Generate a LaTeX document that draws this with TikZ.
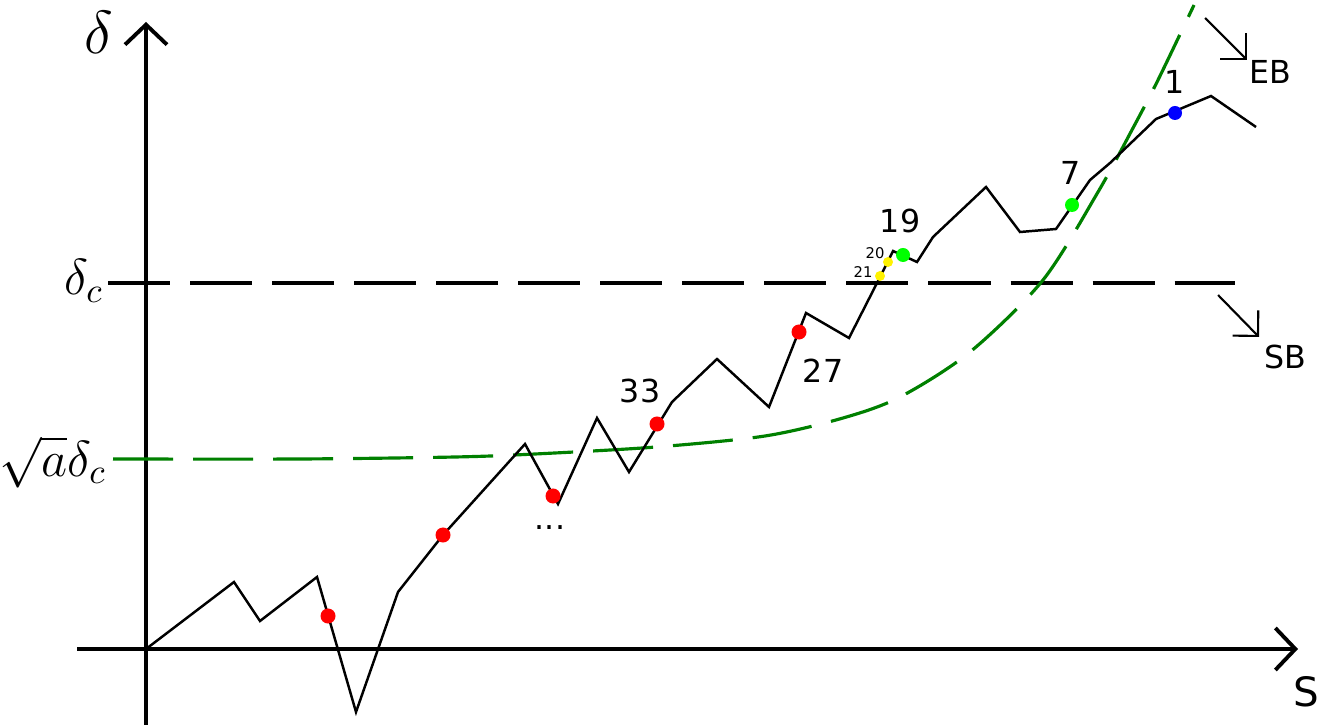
\documentclass[tikz,border=0pt]{standalone}
\usepackage{amsmath}
\usepackage{fontspec}
\newfontfamily\lblfont{DejaVu Sans}
\usetikzlibrary{arrows.meta}

\begin{document}
\begin{tikzpicture}[x=0.01cm,y=-0.01cm,
	axis/.style={line width=1.1pt,-{Straight Barb[length=2mm,width=4.2mm]}},
	barb/.style={line width=0.6pt,-{Straight Barb[length=1.8mm,width=3.6mm]}},
	dot/.style={circle,inner sep=0pt,minimum size=0.15cm},
	smalldot/.style={circle,inner sep=0pt,minimum size=0.1cm,fill=yellow},
	lbl/.style={inner sep=0pt,font=\lblfont\fontsize{9}{11}\selectfont},
	tiny/.style={inner sep=0pt,font=\lblfont\fontsize{4.2}{5}\selectfont},
	mathlbl/.style={inner sep=0pt,font=\fontsize{14}{16}\selectfont}]
	
	\useasboundingbox (0,0) rectangle (1328,725);
	
	% Achsen
	\coordinate (O) at (146,649);
	\coordinate (ybot) at (146,725);
	\coordinate (ytop) at (146,22);
	\coordinate (xleft) at (77,649);
	\coordinate (xright) at (1298,649);
	\draw[axis] (ybot)--(ytop);
	\draw[axis] (xleft)--(xright);
	\node[inner sep=0pt,font=\fontsize{16}{18}\selectfont] (delta) at (99,32) {$\delta$};
	\node[inner sep=0pt,font=\lblfont\fontsize{11.5}{13}\selectfont] (S) at (1306,692) {S};
	
	% Schwellen
	\node[mathlbl,anchor=east] (dc) at (104,281) {$\delta_c$};
	\node[mathlbl,anchor=east] (sqa) at (107,462) {$\sqrt{a}\delta_c$};
	\coordinate (dcs) at (108,283);
	\coordinate (dce) at (1235,283);
	\draw[line width=1pt,dash pattern=on 0.62cm off 0.2cm] (dcs)--(dce);
	\draw[green!50!black,line width=0.9pt,dash pattern=on 0.6cm off 0.2cm]
		plot[smooth,tension=0.5] coordinates {(113,459) (300,459) (455,457) (535,454) (656,447)
		(765,436) (843,418) (900,397) (970,352) (1043,280) (1098,192) (1133,128) (1158,80) (1194,5)};
	
	% Pfad
	\draw[line width=0.7pt,line join=miter]
		(O)--(234,582)--(260,621)--(317,577)--(356,712)--(398,592)--(443,535)--(525,444)
		--(558,504)--(597,418)--(629,472)--(672,402)--(717,359)--(769,407)--(806,313)
		--(849,338)--(877,283)--(893,251)--(917,262)--(933,237)--(986,187)--(1020,232)
		--(1056,229)--(1090,180)--(1110,163)--(1156,119)--(1211,96)--(1256,127);
	
	\node[dot,fill=red] (r1) at (328,616) {};
	\node[dot,fill=red] (r2) at (443,535) {};
	\node[dot,fill=red] (r3) at (553,496) {};
	\node[dot,fill=red] (r33) at (657,424) {};
	\node[dot,fill=red] (r27) at (799,332) {};
	\node[smalldot] (y21) at (880,276) {};
	\node[smalldot] (y20) at (888,262) {};
	\node[dot,fill=green,minimum size=0.14cm] (g19) at (903,255) {};
	\node[dot,fill=green,minimum size=0.14cm] (g7) at (1072,205) {};
	\node[dot,fill=blue,minimum size=0.14cm] (b1) at (1175,113) {};
	
	\node[lbl] (n33) at (640,391) {33};
	\node[lbl] (n27) at (823,371) {27};
	\node[lbl] (n19) at (900,221) {19};
	\node[lbl] (n7) at (1071,173) {7};
	\node[lbl] (n1) at (1175,82) {1};
	\node[tiny] (n20) at (875,253) {20};
	\node[tiny] (n21) at (863,272) {21};
	\node[lbl] (ell) at (550,528) {...};
	
	% EB / SB
	\node[lbl] (EB) at (1270,72) {EB};
	\node[lbl] (SB) at (1285,357) {SB};
	\coordinate (ebs) at (1205,18);
	\coordinate (ebe) at (1247,60);
	\coordinate (sbs) at (1218,295);
	\coordinate (sbe) at (1259,337);
	\draw[barb] (ebs)--(ebe);
	\draw[barb] (sbs)--(sbe);
	
\end{tikzpicture}
\end{document}
